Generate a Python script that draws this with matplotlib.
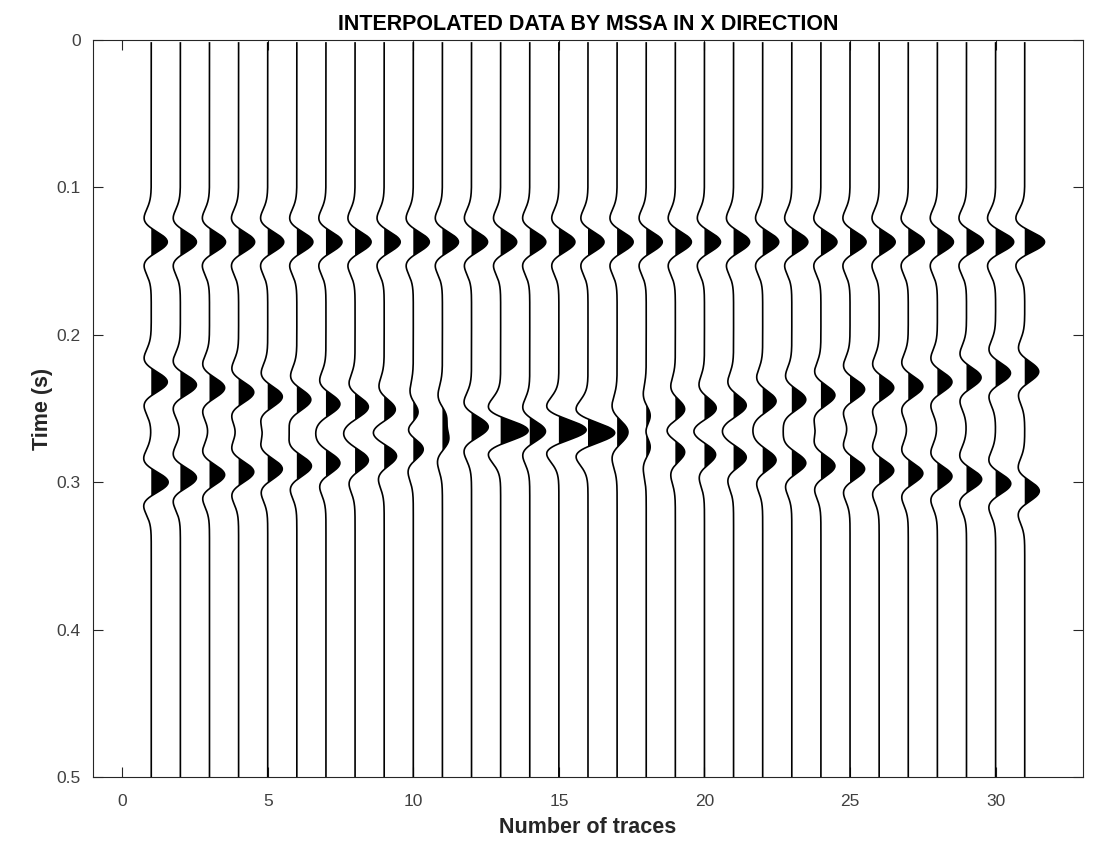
import numpy as np
import matplotlib
matplotlib.use("Agg")
import matplotlib.pyplot as plt

plt.rcParams['font.family'] = ['Liberation Sans', 'DejaVu Sans']

# trace numbers
traces = list(range(1, 32))

# flat reflector
t_flat = 0.137
amp_flat = [0.55, 0.55, 0.55, 0.55, 0.55, 0.55, 0.55, 0.55, 0.55, 0.55,
            0.55, 0.55, 0.55, 0.55, 0.55, 0.55, 0.55, 0.55, 0.55, 0.55,
            0.55, 0.55, 0.55, 0.55, 0.55, 0.55, 0.55, 0.55, 0.58, 0.62, 0.68]

# dipping event going down to the right
t_a = [0.232, 0.234, 0.236, 0.239, 0.242, 0.244, 0.247, 0.249, 0.251, 0.254,
       0.256, 0.260, 0.264, 0.264, 0.264, 0.266, 0.262, 0.256, 0.251, 0.250,
       0.248, 0.245, 0.244, 0.241, 0.237, 0.236, 0.235, 0.232, 0.229, 0.226, 0.225]
amp_a = [0.55, 0.55, 0.52, 0.52, 0.50, 0.48, 0.48, 0.46, 0.40, 0.25,
         0.30, 0.32, 0.48, 0.28, 0.47, 0.46, 0.25, 0.22, 0.35, 0.42,
         0.44, 0.46, 0.48, 0.48, 0.50, 0.50, 0.50, 0.50, 0.50, 0.51, 0.48]

# dipping event going up to the right
t_b = [0.300, 0.297, 0.295, 0.293, 0.291, 0.289, 0.287, 0.285, 0.282, 0.277,
       0.271, 0.265, 0.266, 0.267, 0.265, 0.267, 0.270, 0.275, 0.279, 0.281,
       0.283, 0.285, 0.287, 0.289, 0.291, 0.292, 0.294, 0.296, 0.298, 0.301, 0.306]
amp_b = [0.58, 0.55, 0.52, 0.52, 0.50, 0.50, 0.48, 0.46, 0.44, 0.40,
         0.35, 0.32, 0.48, 0.28, 0.47, 0.46, 0.25, 0.22, 0.35, 0.40,
         0.44, 0.46, 0.48, 0.48, 0.50, 0.50, 0.50, 0.50, 0.52, 0.52, 0.50]

f0 = 24.0  # ricker peak frequency (Hz)
t = np.arange(0.002, 0.5001, 0.0005)


def ricker(t, tc, f):
    a = (np.pi * f * (t - tc)) ** 2
    return (1 - 2 * a) * np.exp(-a)


fig = plt.figure(figsize=(10.97, 8.44), dpi=100)
ax = fig.add_axes([0.0848, 0.0794, 0.9024, 0.8732])

for i, n in enumerate(traces):
    s = (amp_flat[i] * ricker(t, t_flat, f0)
         + amp_a[i] * ricker(t, t_a[i], f0)
         + amp_b[i] * ricker(t, t_b[i], f0))
    ax.fill_betweenx(t, n, n + s, where=s > 0, color='black', lw=0, interpolate=True)
    ax.plot(n + s, t, color='black', lw=1.2)

ax.set_xlim(-1, 33)
ax.set_ylim(0.5, 0)
ax.set_xticks([0, 5, 10, 15, 20, 25, 30])
ax.set_yticks([0, 0.1, 0.2, 0.3, 0.4, 0.5])
ax.set_yticklabels(['0', '0.1', '0.2', '0.3', '0.4', '0.5'])
ax.tick_params(direction='in', length=7, width=0.8, top=True, right=True,
               labelsize=12.5, colors='#262626', labelcolor='#404040')
ax.tick_params(axis='x', pad=12)
ax.tick_params(axis='y', pad=9)
for sp in ax.spines.values():
    sp.set_color('#262626')
    sp.set_linewidth(0.8)

ax.set_title('INTERPOLATED DATA BY MSSA IN X DIRECTION', fontsize=15.5,
             fontweight='bold', pad=7)
ax.set_xlabel('Number of traces', fontsize=15.5, fontweight='bold',
              color='#262626', labelpad=6)
ax.set_ylabel('Time (s)', fontsize=15.5, fontweight='bold',
              color='#262626', labelpad=2)

fig.savefig('out.png', dpi=100)
